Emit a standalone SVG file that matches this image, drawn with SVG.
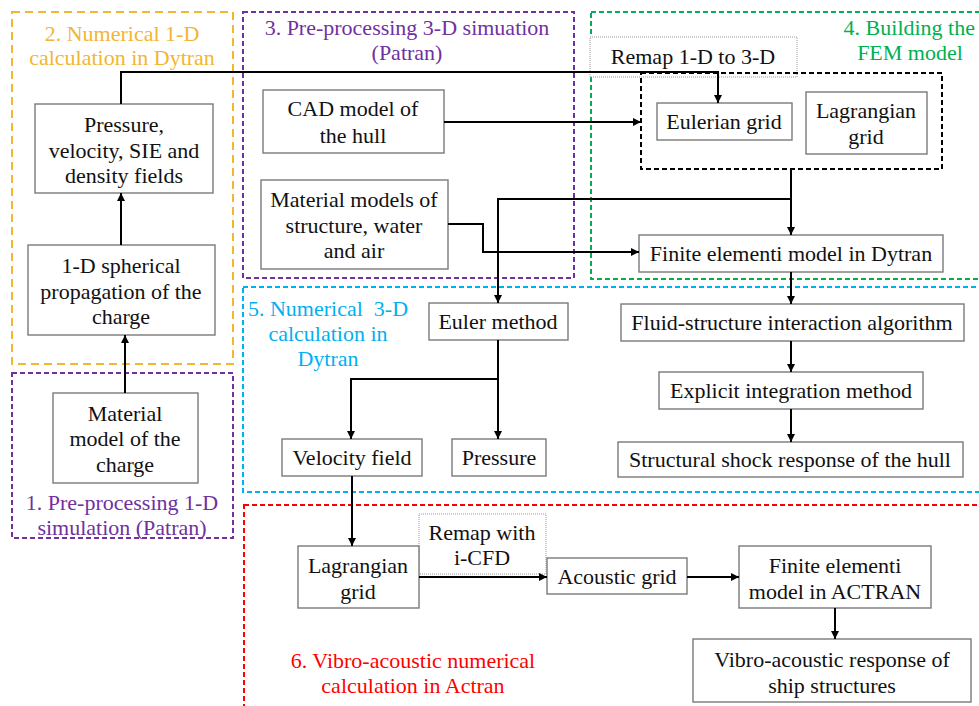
<svg xmlns="http://www.w3.org/2000/svg" width="979" height="706" viewBox="0 0 979 706" font-family="'Liberation Serif', 'DejaVu Serif', serif">
<defs>
<marker id="ah" viewBox="0 0 10 10" refX="10" refY="5" markerWidth="8" markerHeight="8" markerUnits="userSpaceOnUse" orient="auto">
<path d="M0,0 L10,5 L0,10 z" fill="#000"/>
</marker>
</defs>
<style>
text{font-family:'Liberation Serif','DejaVu Serif',serif}
.node{fill:#fff;stroke:#7a7a7a;stroke-width:1.4}
.t{font-size:22px;fill:#111;text-anchor:middle}
.lab{font-size:22px;text-anchor:middle}
.reg{fill:none;stroke-width:2;stroke-dasharray:5 3}
.c{fill:none;stroke:#000;stroke-width:2}
.ca{fill:none;stroke:#000;stroke-width:2;marker-end:url(#ah)}
.note{fill:#fff;stroke:#9a9a9a;stroke-width:1;stroke-dasharray:1 1}
</style>
<rect width="979" height="706" fill="#fff"/>

<!-- regions -->
<g id="regions">
<rect class="reg" x="12" y="12" width="221" height="352" stroke="#F2B630" style="stroke-dasharray:8 5"/>
<rect class="reg" x="12" y="373" width="221" height="165" stroke="#7030A0"/>
<rect class="reg" x="243" y="12" width="331" height="266" stroke="#7030A0"/>
<rect class="reg" x="591" y="12" width="400" height="267" stroke="#00B050"/>
<rect class="reg" x="243" y="287" width="750" height="205" stroke="#00B0F0"/>
<rect class="reg" x="244" y="505" width="750" height="220" stroke="#FF0000"/>
<text class="lab" fill="#F2B630" x="122" y="41">2. Numerical 1-D</text>
<text class="lab" fill="#F2B630" x="122" y="65">calculation in Dytran</text>
<text class="lab" fill="#7030A0" x="407" y="35">3. Pre-processing 3-D simuation</text>
<text class="lab" fill="#7030A0" x="407" y="60">(Patran)</text>
<text class="lab" fill="#00B050" x="975" y="35" style="text-anchor:end">4. Building the</text>
<text class="lab" fill="#00B050" x="910" y="60">FEM model</text>
<text class="lab" fill="#00B0F0" x="328" y="316" xml:space="preserve">5. Numerical  3-D</text>
<text class="lab" fill="#00B0F0" x="328" y="341">calculation in</text>
<text class="lab" fill="#00B0F0" x="328" y="366">Dytran</text>
<text class="lab" fill="#7030A0" x="122" y="510">1. Pre-processing 1-D</text>
<text class="lab" fill="#7030A0" x="122" y="535">simulation (Patran)</text>
<text class="lab" fill="#FF0000" x="413" y="668">6. Vibro-acoustic numerical</text>
<text class="lab" fill="#FF0000" x="413" y="693">calculation in Actran</text>
</g>

<!-- annotation boxes -->
<g id="remap1">
<rect class="note" x="590" y="37" width="207" height="40"/>
<text class="t" x="693" y="64">Remap 1-D to 3-D</text>
</g>
<g id="remap2">
<rect class="note" x="419" y="514" width="127" height="60"/>
<text class="t" x="482" y="540">Remap with</text>
<text class="t" x="482" y="565">i-CFD</text>
</g>
<g id="gridgroup">
<rect x="641" y="73" width="301" height="96" fill="none" stroke="#000" stroke-width="2" stroke-dasharray="5 3"/>
</g>

<!-- nodes -->
<g id="n-pressure-fields">
<rect class="node" x="35" y="104" width="178" height="89"/>
<text class="t" x="124" y="132">Pressure,</text>
<text class="t" x="124" y="158">velocity, SIE and</text>
<text class="t" x="124" y="183">density fields</text>
</g>
<g id="n-spherical">
<rect class="node" x="28" y="245" width="187" height="90"/>
<text class="t" x="121" y="273">1-D spherical</text>
<text class="t" x="121" y="299">propagation of the</text>
<text class="t" x="121" y="324">charge</text>
</g>
<g id="n-material-charge">
<rect class="node" x="53" y="393" width="145" height="90"/>
<text class="t" x="125" y="421">Material</text>
<text class="t" x="125" y="446">model of the</text>
<text class="t" x="125" y="472">charge</text>
</g>
<g id="n-cad">
<rect class="node" x="263" y="90" width="181" height="63"/>
<text class="t" x="353" y="116">CAD model of</text>
<text class="t" x="353" y="143">the hull</text>
</g>
<g id="n-materials">
<rect class="node" x="261" y="180" width="187" height="89"/>
<text class="t" x="354" y="207">Material models of</text>
<text class="t" x="354" y="233">structure, water</text>
<text class="t" x="354" y="258">and air</text>
</g>
<g id="n-eulerian">
<rect class="node" x="657" y="103" width="135" height="37"/>
<text class="t" x="724" y="129">Eulerian grid</text>
</g>
<g id="n-lagrangian-top">
<rect class="node" x="806" y="92" width="121" height="62"/>
<text class="t" x="866" y="118">Lagrangian</text>
<text class="t" x="866" y="144">grid</text>
</g>
<g id="n-fem-dytran">
<rect class="node" x="639" y="235" width="304" height="37"/>
<text class="t" x="791" y="261">Finite elementi model in Dytran</text>
</g>
<g id="n-euler">
<rect class="node" x="429" y="303" width="139" height="37"/>
<text class="t" x="498" y="329">Euler method</text>
</g>
<g id="n-fsi">
<rect class="node" x="621" y="304" width="343" height="37"/>
<text class="t" x="792" y="330">Fluid-structure interaction algorithm</text>
</g>
<g id="n-explicit">
<rect class="node" x="659" y="372" width="264" height="37"/>
<text class="t" x="791" y="398">Explicit integration method</text>
</g>
<g id="n-shock">
<rect class="node" x="618" y="442" width="345" height="35"/>
<text class="t" x="790" y="467">Structural shock response of the hull</text>
</g>
<g id="n-velocity">
<rect class="node" x="282" y="439" width="140" height="37"/>
<text class="t" x="352" y="465">Velocity field</text>
</g>
<g id="n-pressure">
<rect class="node" x="452" y="439" width="94" height="37"/>
<text class="t" x="499" y="465">Pressure</text>
</g>
<g id="n-lagrangian-bot">
<rect class="node" x="298" y="546" width="121" height="62"/>
<text class="t" x="358" y="573">Lagrangian</text>
<text class="t" x="358" y="599">grid</text>
</g>
<g id="n-acoustic">
<rect class="node" x="547" y="558" width="140" height="36"/>
<text class="t" x="617" y="584">Acoustic grid</text>
</g>
<g id="n-fem-actran">
<rect class="node" x="739" y="546" width="192" height="62"/>
<text class="t" x="835" y="573">Finite elementi</text>
<text class="t" x="835" y="599">model in ACTRAN</text>
</g>
<g id="n-vibro">
<rect class="node" x="693" y="639" width="278" height="63"/>
<text class="t" x="832" y="667">Vibro-acoustic response of</text>
<text class="t" x="832" y="693">ship structures</text>
</g>

<!-- connectors -->
<g id="connectors">
<path class="ca" d="M125,393 V335"/>
<path class="ca" d="M121,245 V193"/>
<path class="ca" d="M121,104 V72 H718 V103"/>
<path class="ca" d="M444,122 H641"/>
<path class="ca" d="M791,169 V235"/>
<path class="ca" d="M791,199 H498 V303"/>
<path class="ca" d="M448,224 H483 V252 H639"/>
<path class="ca" d="M791,272 V304"/>
<path class="ca" d="M791,341 V372"/>
<path class="ca" d="M791,409 V442"/>
<path class="ca" d="M498,340 V439"/>
<path class="ca" d="M498,379 H351 V439"/>
<path class="ca" d="M352,476 V546"/>
<path class="ca" d="M419,577 H547"/>
<path class="ca" d="M687,577 H739"/>
<path class="ca" d="M835,608 V639"/>
</g>
</svg>
